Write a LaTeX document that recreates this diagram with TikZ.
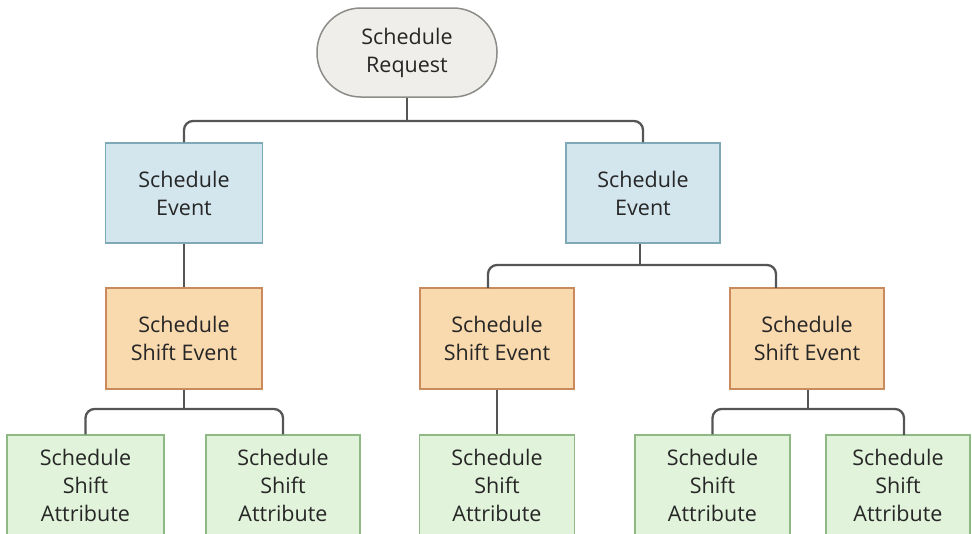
\documentclass[tikz,border=0pt]{standalone}
\usepackage{fontspec}
\setmainfont{Open Sans}
\definecolor{rootfill}{HTML}{EFEEEA}
\definecolor{rootdraw}{HTML}{8C8C88}
\definecolor{bluefill}{HTML}{D3E6EE}
\definecolor{bluedraw}{HTML}{7FA9B6}
\definecolor{orfill}{HTML}{F9D9AE}
\definecolor{ordraw}{HTML}{C98A5E}
\definecolor{grfill}{HTML}{E1F3DA}
\definecolor{grdraw}{HTML}{8EB985}
\definecolor{linec}{HTML}{555555}
\begin{document}
\begin{tikzpicture}[x=1pt,y=-1pt,
  box/.style={rectangle,line width=1.5pt,align=center,inner sep=0pt,
    font=\fontsize{21.5}{28}\selectfont,text=black!85},
  rootbox/.style={box,fill=rootfill,draw=rootdraw,rounded corners=44pt,minimum width=180pt,minimum height=89pt},
  evbox/.style={box,fill=bluefill,draw=bluedraw,minimum height=100pt},
  shbox/.style={box,fill=orfill,draw=ordraw,minimum height=101pt},
  atbox/.style={box,fill=grfill,draw=grdraw,minimum height=101pt},
  conn/.style={draw=linec,line width=2.3pt,rounded corners=9pt}]
\useasboundingbox (0,0) rectangle (972,533);
\node[rootbox] (root) at (407,52.5) {Schedule\\Request};
\node[evbox,minimum width=157pt] (evL) at (184,193) {Schedule\\Event};
\node[evbox,minimum width=154pt] (evR) at (643,193) {Schedule\\Event};
\node[shbox,minimum width=156pt] (shL) at (184,338.5) {Schedule\\Shift Event};
\node[shbox,minimum width=154pt] (shM) at (497,338.5) {Schedule\\Shift Event};
\node[shbox,minimum width=154pt] (shR) at (807,338.5) {Schedule\\Shift Event};
\node[atbox,minimum width=157pt] (atA) at (85.5,485.5) {Schedule\\Shift\\Attribute};
\node[atbox,minimum width=154pt] (atB) at (283,485.5) {Schedule\\Shift\\Attribute};
\node[atbox,minimum width=155pt] (atC) at (497,485.5) {Schedule\\Shift\\Attribute};
\node[atbox,minimum width=155pt] (atD) at (712.5,485.5) {Schedule\\Shift\\Attribute};
\node[atbox,minimum width=144pt] (atE) at (898,485.5) {Schedule\\Shift\\Attribute};
\coordinate (busA) at (407,121);
\coordinate (pM) at (488,288);
\coordinate (pR) at (776,288);
\coordinate (busB) at (640,265);
\coordinate (qE) at (904,435);
\coordinate (busC) at (184,409);
\coordinate (busD) at (808,409);
\draw[conn] (root.south) -- (busA);
\draw[conn] (evL.north) |- (busA) -| (evR.north);
\draw[conn] (evL.south) -- (shL.north);
\draw[conn] (evR.south -| busB) -- (busB);
\draw[conn] (pM) |- (busB) -| (pR);
\draw[conn] (shM.south) -- (atC.north);
\draw[conn] (shL.south) -- (busC);
\draw[conn] (atA.north) |- (busC) -| (atB.north);
\draw[conn] (shR.south -| busD) -- (busD);
\draw[conn] (atD.north) |- (busD) -| (qE);
\end{tikzpicture}
\end{document}
